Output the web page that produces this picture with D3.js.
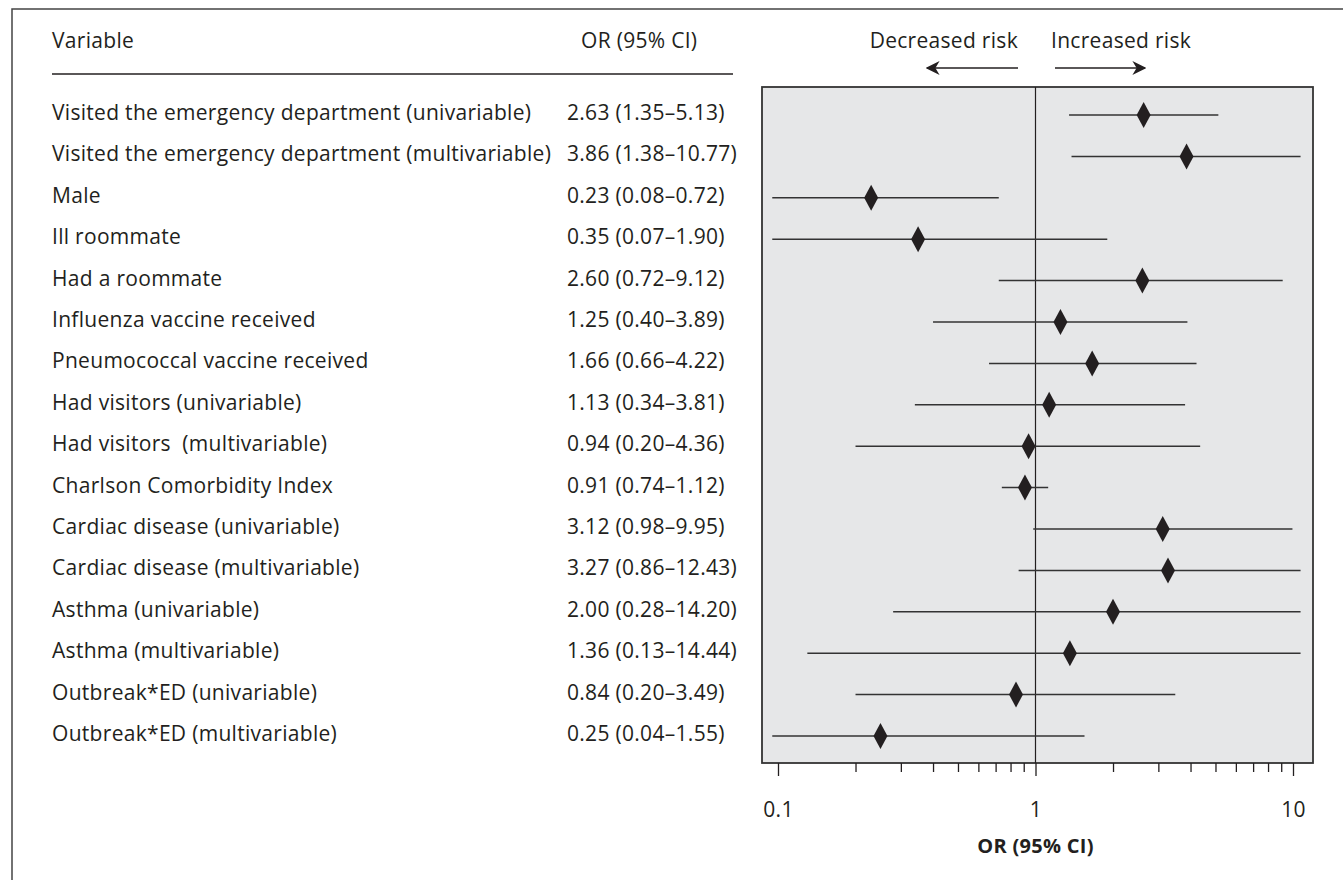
<!DOCTYPE html>
<html>
<head>
<meta charset="utf-8">
<script src="https://cdn.jsdelivr.net/npm/d3@7"></script>
<style>
  body { margin: 0; background: #fff; }
  text { font-family: "Open Sans", "Noto Sans", sans-serif; fill: #231f20; letter-spacing: 0.3px; }
</style>
</head>
<body>
<div id="chart-area"></div>
<script>
// data
var variables = [
    "Visited the emergency department (univariable)",
    "Visited the emergency department (multivariable)",
    "Male",
    "Ill roommate",
    "Had a roommate",
    "Influenza vaccine received",
    "Pneumococcal vaccine received",
    "Had visitors (univariable)",
    "Had visitors  (multivariable)",
    "Charlson Comorbidity Index",
    "Cardiac disease (univariable)",
    "Cardiac disease (multivariable)",
    "Asthma (univariable)",
    "Asthma (multivariable)",
    "Outbreak*ED (univariable)",
    "Outbreak*ED (multivariable)"
];
var or    = [2.63, 3.86, 0.23, 0.35, 2.60, 1.25, 1.66, 1.13, 0.94, 0.91, 3.12, 3.27, 2.00, 1.36, 0.84, 0.25];
var lower = [1.35, 1.38, 0.08, 0.07, 0.72, 0.40, 0.66, 0.34, 0.20, 0.74, 0.98, 0.86, 0.28, 0.13, 0.20, 0.04];
var upper = [5.13, 10.77, 0.72, 1.90, 9.12, 3.89, 4.22, 3.81, 4.36, 1.12, 9.95, 12.43, 14.20, 14.44, 3.49, 1.55];
var majorTicks = [0.1, 1, 10];
var minorTicks = [0.2, 0.3, 0.4, 0.5, 0.6, 0.7, 0.8, 0.9, 2, 3, 4, 5, 6, 7, 8, 9];
var clipRange = [0.095, 10.7];

var data = variables.map(function(v, i) {
    return {name: v, or: or[i], lo: lower[i], hi: upper[i]};
});

var fmt = d3.format(".2f");

var svg = d3.select("#chart-area")
    .append("svg")
    .attr("width", 1343)
    .attr("height", 880);

// outer frame
svg.append("rect")
    .attr("x", 12).attr("y", 9)
    .attr("width", 1345).attr("height", 890)
    .attr("fill", "none")
    .attr("stroke", "#444")
    .attr("stroke-width", 1.5);

var x = d3.scaleLog()
    .domain([0.1, 10])
    .range([778, 1293]);

var y = d3.scalePoint()
    .domain(variables)
    .range([115, 736]);

var panel = {left: 762, top: 87, right: 1313, bottom: 763};

// headers
svg.append("text").attr("x", 52).attr("y", 48)
    .style("font-size", "21px").text("Variable");
svg.append("text").attr("x", 581).attr("y", 48)
    .style("font-size", "21px").text("OR (95% CI)");
svg.append("line")
    .attr("x1", 52).attr("x2", 733)
    .attr("y1", 74).attr("y2", 74)
    .attr("stroke", "#231f20").attr("stroke-width", 1.5);

// row labels
svg.selectAll(".name")
    .data(data)
    .enter()
    .append("text")
    .attr("class", "name")
    .attr("x", 52)
    .attr("y", d => y(d.name) + 5)
    .style("font-size", "21px")
    .style("white-space", "pre")
    .text(d => d.name);

svg.selectAll(".ci")
    .data(data)
    .enter()
    .append("text")
    .attr("class", "ci")
    .attr("x", 567)
    .attr("y", d => y(d.name) + 5)
    .style("font-size", "21px")
    .text(d => fmt(d.or) + " (" + fmt(d.lo) + "\u2013" + fmt(d.hi) + ")");

// panel
svg.append("rect")
    .attr("x", panel.left).attr("y", panel.top)
    .attr("width", panel.right - panel.left)
    .attr("height", panel.bottom - panel.top)
    .attr("fill", "#e6e7e8")
    .attr("stroke", "#333")
    .attr("stroke-width", 1.8);

// reference line at 1
svg.append("line")
    .attr("x1", x(1)).attr("x2", x(1))
    .attr("y1", panel.top).attr("y2", panel.bottom)
    .attr("stroke", "#231f20").attr("stroke-width", 1.2);

// CI lines
svg.selectAll(".whisker")
    .data(data)
    .enter()
    .append("line")
    .attr("class", "whisker")
    .attr("x1", d => x(Math.max(d.lo, clipRange[0])))
    .attr("x2", d => x(Math.min(d.hi, clipRange[1])))
    .attr("y1", d => y(d.name))
    .attr("y2", d => y(d.name))
    .attr("stroke", "#333")
    .attr("stroke-width", 1.5);

// diamonds
svg.selectAll(".diamond")
    .data(data)
    .enter()
    .append("path")
    .attr("class", "diamond")
    .attr("transform", d => "translate(" + x(d.or) + "," + y(d.name) + ")")
    .attr("d", "M0,-13 L7,0 L0,13 L-7,0 Z")
    .attr("fill", "#231f20");

// axis
var axisMajor = d3.axisBottom(x)
    .tickValues(majorTicks)
    .tickSize(13)
    .tickPadding(26)
    .tickFormat(d3.format(""));
var axisMinor = d3.axisBottom(x)
    .tickValues(minorTicks)
    .tickSize(9)
    .tickFormat("");

var gMinor = svg.append("g")
    .attr("transform", "translate(0," + panel.bottom + ")")
    .call(axisMinor);
var gMajor = svg.append("g")
    .attr("transform", "translate(0," + panel.bottom + ")")
    .call(axisMajor);
[gMinor, gMajor].forEach(function(g) {
    g.select(".domain").remove();
    g.selectAll(".tick line").attr("stroke", "#231f20").attr("stroke-width", 1.3);
});
gMajor.selectAll(".tick text")
    .style("font-size", "21px")
    .style("font-family", "'Open Sans', 'Noto Sans', sans-serif")
    .attr("fill", "#231f20");

svg.append("text")
    .attr("x", x(1)).attr("y", 853)
    .attr("text-anchor", "middle")
    .style("font-size", "20px")
    .style("font-weight", "bold")
    .text("OR (95% CI)");

// risk direction labels
svg.append("defs").append("marker")
    .attr("id", "head")
    .attr("viewBox", "0 0 10 10")
    .attr("refX", 9).attr("refY", 5)
    .attr("markerWidth", 14).attr("markerHeight", 14)
    .attr("markerUnits", "userSpaceOnUse")
    .attr("orient", "auto")
    .append("path")
    .attr("d", "M0,0 L10,5 L0,10 L3,5 Z")
    .attr("fill", "#231f20");

svg.append("text").attr("x", 1018).attr("y", 48)
    .attr("text-anchor", "end")
    .style("font-size", "21px").text("Decreased risk");
svg.append("text").attr("x", 1051).attr("y", 48)
    .style("font-size", "21px").text("Increased risk");

svg.append("line")
    .attr("x1", 1018).attr("x2", 927)
    .attr("y1", 68).attr("y2", 68)
    .attr("stroke", "#231f20").attr("stroke-width", 1.3)
    .attr("marker-end", "url(#head)");
svg.append("line")
    .attr("x1", 1055).attr("x2", 1145)
    .attr("y1", 68).attr("y2", 68)
    .attr("stroke", "#231f20").attr("stroke-width", 1.3)
    .attr("marker-end", "url(#head)");
</script>
</body>
</html>
